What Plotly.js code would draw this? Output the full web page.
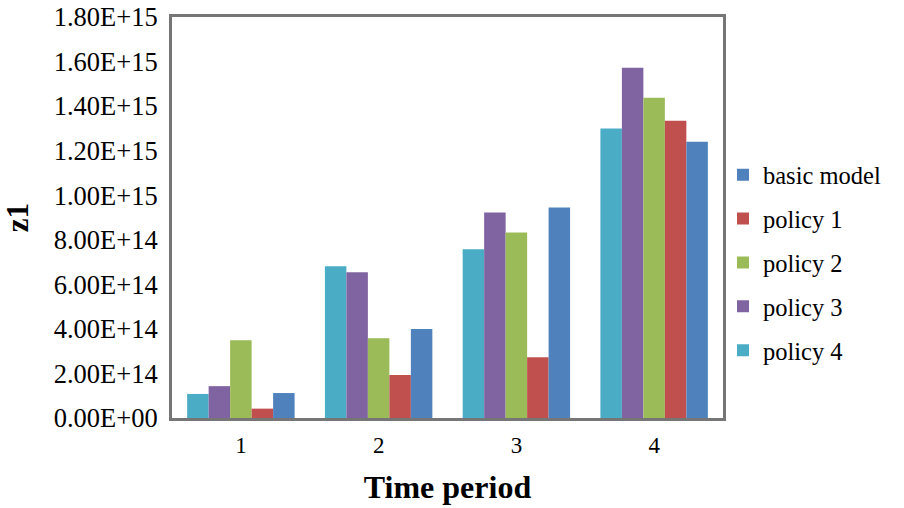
<!DOCTYPE html>
<html>
<head>
<meta charset="utf-8">
<script src="https://cdn.plot.ly/plotly-3.0.1.min.js"></script>
<style>html,body{margin:0;padding:0;background:#fff;}#chart{width:904px;height:508px;}</style>
</head>
<body>
<div id="chart"></div>
<script>
var categories = ["1", "2", "3", "4"];
var seriesNames = ["policy 4", "policy 3", "policy 2", "policy 1", "basic model"];
var policy4 = [1.08e14, 6.81e14, 7.57e14, 1.300e15];
var policy3 = [1.43e14, 6.54e14, 9.22e14, 1.572e15];
var policy2 = [3.49e14, 3.58e14, 8.33e14, 1.437e15];
var policy1 = [0.42e14, 1.93e14, 2.73e14, 1.334e15];
var basicModel = [1.12e14, 3.99e14, 9.45e14, 1.240e15];
var yTickVals = [0, 2e14, 4e14, 6e14, 8e14, 1e15, 1.2e15, 1.4e15, 1.6e15, 1.8e15];
var yTickText = ["0.00E+00", "2.00E+14", "4.00E+14", "6.00E+14", "8.00E+14", "1.00E+15", "1.20E+15", "1.40E+15", "1.60E+15", "1.80E+15"];

var seriesValues = [policy4, policy3, policy2, policy1, basicModel];
var seriesColors = ["#4BACC6", "#8064A2", "#9BBB59", "#C0504D", "#4F81BD"];
var legendRanks = [5, 4, 3, 2, 1];

var FONT = "Liberation Serif";

var data = seriesNames.map(function (name, i) {
  return {
    type: "bar",
    name: name,
    x: categories,
    y: seriesValues[i],
    marker: { color: seriesColors[i], line: { width: 0 } },
    legendgroup: name,
    legendrank: legendRanks[i]
  };
});

var layout = {
  width: 904,
  height: 508,
  margin: { l: 172, r: 181, t: 17, b: 90, pad: 0 },
  paper_bgcolor: "#ffffff",
  plot_bgcolor: "#ffffff",
  font: { family: FONT, color: "#000000", size: 24 },
  barmode: "group",
  bargap: 0.22,
  bargroupgap: 0,
  showlegend: true,
  legend: {
    x: 1.0, xanchor: "left",
    y: 0.387, yanchor: "middle",
    traceorder: "grouped",
    tracegroupgap: 9,
    font: { family: FONT, size: 24.5, color: "#000000" },
    bgcolor: "rgba(0,0,0,0)",
    borderwidth: 0
  },
  xaxis: {
    type: "category",
    showline: true, mirror: true, linecolor: "#767676", linewidth: 3,
    showgrid: false, zeroline: false,
    ticks: "outside", ticklen: 4, tickcolor: "rgba(0,0,0,0)",
    tickfont: { family: FONT, size: 23, color: "#000000" },
    title: { text: "Time period", font: { family: FONT, size: 32, color: "#000000", weight: "bold" }, standoff: 20 }
  },
  yaxis: {
    range: [0, 1.8e15],
    tickmode: "array", tickvals: yTickVals, ticktext: yTickText,
    showline: true, mirror: true, linecolor: "#767676", linewidth: 3,
    showgrid: false, zeroline: false,
    ticks: "outside", ticklen: 6, tickcolor: "rgba(0,0,0,0)",
    tickfont: { family: FONT, size: 26.5, color: "#000000" },
    title: { text: "z1", font: { family: FONT, size: 31, color: "#000000", weight: "bold" }, standoff: 20 }
  }
};

Plotly.newPlot("chart", data, layout, { staticPlot: true, displayModeBar: false });
</script>
</body>
</html>
